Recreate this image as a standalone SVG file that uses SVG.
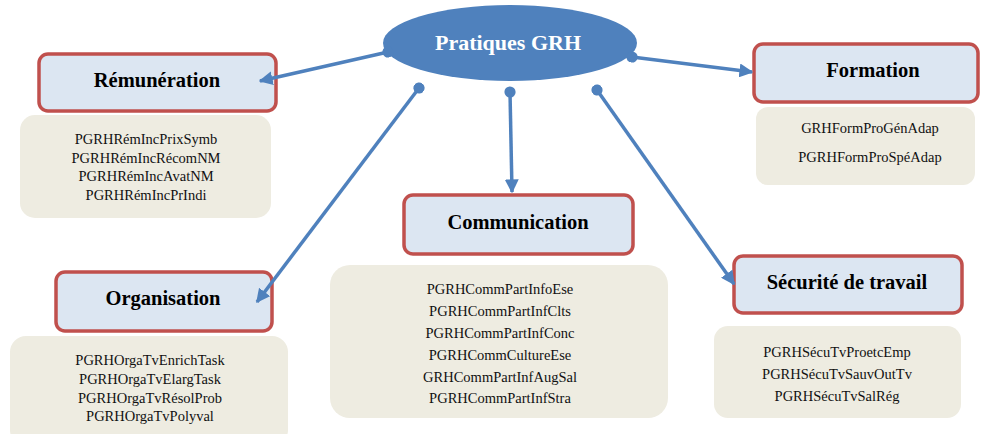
<svg xmlns="http://www.w3.org/2000/svg" width="991" height="434" viewBox="0 0 991 434">
<defs>
<marker id="arr" viewBox="0 0 10 10" refX="9" refY="5" markerWidth="4" markerHeight="4" orient="auto" markerUnits="strokeWidth"><path d="M0,0 L10,5 L0,10 z" fill="#4F81BD"/></marker>
<marker id="dot" viewBox="0 0 10 10" refX="5" refY="5" markerWidth="3.2" markerHeight="3.2" orient="auto" markerUnits="strokeWidth"><circle cx="5" cy="5" r="5" fill="#4F81BD"/></marker>
<style>
.box{fill:#DCE6F2;stroke:#C0504D;stroke-width:3.5}
.list{fill:#EEECE1}
.lbl{font-family:"Liberation Serif",serif;font-weight:bold;font-size:20.5px;fill:#000;text-anchor:middle}
.item{font-family:"Liberation Serif",serif;font-size:14.5px;fill:#111;text-anchor:middle}
.con{stroke:#4F81BD;stroke-width:3.5;fill:none;marker-start:url(#dot);marker-end:url(#arr)}
</style>
</defs>
<g id="center">
<ellipse cx="510" cy="43" rx="127" ry="38" fill="#4F81BD"/>
<text x="508" y="50" font-family="Liberation Serif,serif" font-weight="bold" font-size="22" fill="#fff" text-anchor="middle">Pratiques GRH</text>
</g>
<g id="remuneration">
<rect class="box" x="39" y="54" width="237" height="57" rx="9"/>
<text class="lbl" x="157" y="87">Rémunération</text>
<rect class="list" x="20" y="115" width="251" height="103" rx="15"/>
<text class="item" x="146" y="144">PGRHRémIncPrixSymb</text>
<text class="item" x="146" y="163">PGRHRémIncRécomNM</text>
<text class="item" x="146" y="181">PGRHRémIncAvatNM</text>
<text class="item" x="146" y="200">PGRHRémIncPrIndi</text>
</g>
<g id="formation">
<rect class="box" x="754" y="44" width="224" height="58" rx="9"/>
<text class="lbl" x="873" y="77">Formation</text>
<rect class="list" x="756" y="107" width="219" height="78" rx="12"/>
<text class="item" x="870" y="133">GRHFormProGénAdap</text>
<text class="item" x="870" y="162">PGRHFormProSpéAdap</text>
</g>
<g id="communication">
<rect class="box" x="404" y="195" width="229" height="59" rx="9"/>
<text class="lbl" x="518" y="229">Communication</text>
<rect class="list" x="330" y="265" width="338" height="153" rx="20"/>
<text class="item" x="500" y="294">PGRHCommPartInfoEse</text>
<text class="item" x="500" y="316">PGRHCommPartInfClts</text>
<text class="item" x="500" y="338">PGRHCommPartInfConc</text>
<text class="item" x="500" y="360">PGRHCommCultureEse</text>
<text class="item" x="500" y="382">GRHCommPartInfAugSal</text>
<text class="item" x="500" y="403">PGRHCommPartInfStra</text>
</g>
<g id="organisation">
<rect class="box" x="56" y="272" width="216" height="59" rx="9"/>
<text class="lbl" x="163" y="305">Organisation</text>
<rect class="list" x="10" y="336" width="278" height="110" rx="16"/>
<text class="item" x="150" y="365">PGRHOrgaTvEnrichTask</text>
<text class="item" x="150" y="384">PGRHOrgaTvElargTask</text>
<text class="item" x="150" y="403">PGRHOrgaTvRésolProb</text>
<text class="item" x="150" y="421">PGRHOrgaTvPolyval</text>
</g>
<g id="securite">
<rect class="box" x="734" y="256" width="228" height="57" rx="9"/>
<text class="lbl" x="847" y="289">Sécurité de travail</text>
<rect class="list" x="714" y="326" width="247" height="92" rx="14"/>
<text class="item" x="837" y="357">PGRHSécuTvProetcEmp</text>
<text class="item" x="837" y="379">PGRHSécuTvSauvOutTv</text>
<text class="item" x="837" y="401">PGRHSécuTvSalRég</text>
</g>
<g id="connectors">
<line class="con" x1="388" y1="52" x2="260" y2="81"/>
<line class="con" x1="632" y1="57" x2="752" y2="72"/>
<line class="con" x1="510" y1="92" x2="512" y2="192"/>
<line class="con" x1="419" y1="88" x2="257" y2="302"/>
<line class="con" x1="597" y1="90" x2="734" y2="284"/>
</g>
</svg>
